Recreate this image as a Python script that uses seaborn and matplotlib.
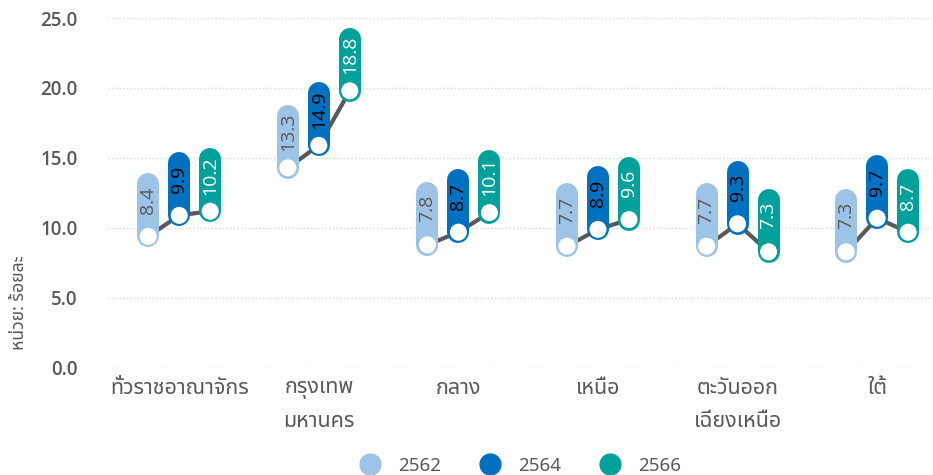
import numpy as np
import pandas as pd
import matplotlib
matplotlib.use("Agg")
import matplotlib.pyplot as plt
import matplotlib.transforms as mtransforms
from matplotlib.lines import Line2D
from matplotlib import font_manager as fm
from matplotlib.ft2font import FT2Font
import seaborn as sns

# ---------------- data ----------------
categories = ['ทั่วราชอาณาจักร', 'กรุงเทพ\nมหานคร', 'กลาง', 'เหนือ', 'ตะวันออก\nเฉียงเหนือ', 'ใต้']
years = ['2562', '2564', '2566']
v2562 = [8.4, 13.3, 7.8, 7.7, 7.7, 7.3]
v2564 = [9.9, 14.9, 8.7, 8.9, 9.3, 9.7]
v2566 = [10.2, 18.8, 10.1, 9.6, 7.3, 8.7]
y_ticks = [0.0, 5.0, 10.0, 15.0, 20.0, 25.0]
y_label = 'หน่วย: ร้อยละ'

colors = {'2562': '#9DC3E6', '2564': '#0070C0', '2566': '#00A19A'}
text_colors = {'2562': '#595959', '2564': '#000000', '2566': '#FFFFFF'}
gray = '#595959'

# ---------------- font with Thai coverage ----------------
thai_font = None
preferred = []
for f in fm.fontManager.ttflist:
    try:
        cmap = FT2Font(f.fname).get_charmap()
    except Exception:
        continue
    if 0x0E01 in cmap and 0x0E4C in cmap:
        preferred.append(f.name)
for name in ['Noto Sans Thai', 'Noto Sans Thai UI', 'Tahoma', 'Leelawadee UI', 'Sarabun', 'Loma', 'Garuda']:
    if name in preferred:
        thai_font = name
        break
if thai_font is None and preferred:
    thai_font = preferred[0]

sns.set_theme(style='white')
fams = ([thai_font] if thai_font else []) + ['Open Sans', 'DejaVu Sans']
plt.rcParams['font.family'] = fams
num_fam = ['Open Sans', 'DejaVu Sans']

# ---------------- long-form table ----------------
series = {'2562': v2562, '2564': v2564, '2566': v2566}
dodge = 0.222
rows = []
for j, yr in enumerate(years):
    for i, cat in enumerate(categories):
        rows.append({'cat': cat, 'ci': i, 'year': yr,
                     'x': i + (j - 1) * dodge, 'value': series[yr][i]})
df = pd.DataFrame(rows).sort_values(['ci', 'year'])

fig = plt.figure(figsize=(9.33, 4.75), dpi=100)
ax = fig.add_axes([0.1158, 0.2253, 0.8842, 0.7368])
ax.set_xlim(-0.51, 5.4)
ax.set_ylim(0, 25)

# pixels per data unit (vertical)
px_per_unit = ax.get_position().height * fig.get_figheight() * fig.dpi / 25.0
# markers sit 14 px above their value in the reference layout
shift = mtransforms.offset_copy(ax.transData, fig=fig, x=0, y=14, units='dots')

# connecting line
sns.lineplot(data=df, x='x', y='value', units='cat', estimator=None,
             color=gray, lw=3, ax=ax, legend=False, zorder=1,
             transform=shift, sort=False)

# pills with labels
pill_len = 52.0 / px_per_unit
pill_w_pt = 22 * 72.0 / fig.dpi
for _, r in df.iterrows():
    ax.plot([r['x'], r['x']], [r['value'], r['value'] + pill_len],
            color=colors[r['year']], lw=pill_w_pt, solid_capstyle='round',
            transform=shift, zorder=2)
    ax.text(r['x'], r['value'] + 36.0 / px_per_unit, f"{r['value']:.1f}",
            rotation=90, ha='center', va='center', fontsize=14,
            color=text_colors[r['year']], transform=shift, zorder=4,
            family=num_fam)

# white markers
sns.scatterplot(data=df, x='x', y='value', color='white', s=150,
                edgecolor='none', ax=ax, legend=False, zorder=3,
                transform=shift)

# axes styling
ax.set_xticks(range(len(categories)))
ax.set_xticklabels(categories)
ax.set_yticks(y_ticks)
ax.set_yticklabels([f"{t:.1f}" for t in y_ticks])
ax.tick_params(axis='both', length=0, colors=gray)
ax.tick_params(axis='y', pad=22, labelsize=13.5)
ax.tick_params(axis='x', pad=7, labelsize=15.5)
for lab in ax.get_yticklabels():
    lab.set_fontweight('semibold')
    lab.set_family(num_fam)
for lab in ax.get_xticklabels():
    lab.set_linespacing(1.75)
    lab.set_va('top')
    lab.set_fontweight('semibold')
for s in ax.spines.values():
    s.set_visible(False)
ax.yaxis.grid(True, color='#D9D9D9', linestyle=':', lw=1)
ax.xaxis.grid(False)
ax.set_axisbelow(True)
ax.set_xlabel('')
ax.set_ylabel('')

fig.text(0.02, 0.362, y_label, rotation=90, ha='center', va='center',
         fontsize=12.7, color=gray, fontweight='bold')

# legend
handles = [Line2D([], [], ls='', marker='o', markersize=15, color=colors[y]) for y in years]
fig.legend(handles, years, loc='lower center', bbox_to_anchor=(0.553, -0.035), ncol=3,
           frameon=False, fontsize=13.5, handletextpad=0.5, columnspacing=1.6,
           labelcolor=gray)

fig.savefig('out.png', dpi=100)
